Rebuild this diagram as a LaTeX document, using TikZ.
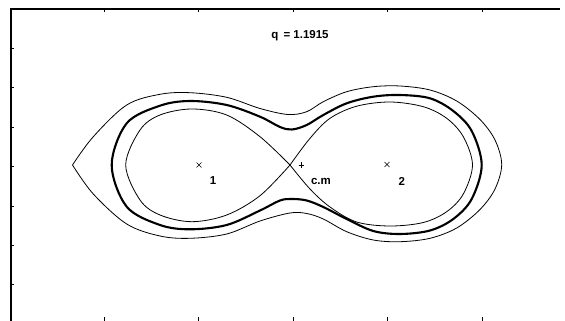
\documentclass[tikz,border=0pt]{standalone}
\usepackage{fontspec}
\setmainfont{Liberation Sans}
\begin{document}
\begin{tikzpicture}[x=1pt,y=-1pt,
  thin curve/.style={line width=0.8pt, line join=round},
  thick curve/.style={line width=2.1pt, line join=round},
  frame/.style={line width=1.1pt},
  lbl/.style={font=\fontsize{11.5}{12}\selectfont\bfseries, inner sep=0pt},
  tickmark/.style={line width=0.6pt}]
\useasboundingbox (0,0) rectangle (565,321);
% frame
\draw[frame] (11,321) -- (11,9) -- (560,9);
\foreach \yy in {48,87,127,166,206,245,284} \draw[tickmark] (11,\yy) -- (14,\yy);
\foreach \xx in {104.5,198,293,387,482} {\draw[tickmark] (\xx,9) -- (\xx,12); \draw[tickmark] (\xx,321) -- (\xx,317);}
% outer curve (through the outer Lagrange point)
\draw[thin curve] plot[smooth, tension=0.55] coordinates {
 (72.5,165) (93.3,136.7) (126.7,105) (160,94.3) (190,92.7) (226.7,97.3) (260,108.5) (288,114.5)
 (306.7,111.7) (323.3,101.7) (346.7,91.7) (373.3,86.7) (400,86) (430,90) (456.7,101) (480,119.5)
 (495,140) (501.7,164.5) (495,189) (480,209.5)
 (456.7,228) (430,238.3) (400,241.7) (373.3,240) (346.7,231.7) (323.3,219) (306.7,213.5) (290,213)
 (260,221) (226.7,234) (190,238.3) (160,236) (126.7,224) (93.3,194) (72.5,165)};
% thick curve
\draw[thick curve] plot[smooth cycle, tension=0.55] coordinates {
 (111.7,165) (126.7,123.3) (160,105.7) (190,101) (226.7,105) (260,116.7) (280,127) (292,129.5)
 (306.7,125) (323.3,115) (346.7,103.3) (373.3,96.7) (400,95) (430,98.3) (453.3,111) (471.7,131)
 (481.7,165) (471.7,199) (453.3,219) (430,230.5) (400,234) (373.3,231)
 (346.7,219) (323.3,207) (306.7,200.5) (292,199)
 (280,200.5) (260,210.5) (226.7,225) (190,229.3) (160,225) (126.7,206.7)};
% inner critical lobes
\draw[thin curve] plot[smooth, tension=0.55] coordinates {
 (290,165) (260,136.7) (226.7,115) (191.7,109) (160,115) (140,130) (125.7,165)
 (140,200) (160,215) (191.7,221.7) (226.7,215) (260,195.7) (290,165)};
\draw[thin curve] plot[smooth, tension=0.55] coordinates {
 (290,165) (310,138.3) (330,118.3) (356.7,106.2) (390,102) (423.3,106.7) (446.7,118.3) (463.3,136.7)
 (472.5,165) (463.3,194) (446.7,211.7) (423.3,222.5) (390,226) (356.7,222)
 (330,207) (310,189) (290,165)};
% marks
\draw[tickmark] (196.5,162.5) -- (201.5,167.5) (196.5,167.5) -- (201.5,162.5);
\draw[tickmark] (384.5,162) -- (389.5,167) (384.5,167) -- (389.5,162);
\draw[tickmark] (298.5,165) -- (304,165) (301.2,162.3) -- (301.2,167.7);
% labels
\node[lbl] (title) at (300,36) {q \,= 1.1915};
\node[lbl] (l1) at (213,181) {1};
\node[lbl] (l2) at (401.7,181) {2};
\node[lbl] (lcm) at (321,181) {c.m};
\end{tikzpicture}
\end{document}
